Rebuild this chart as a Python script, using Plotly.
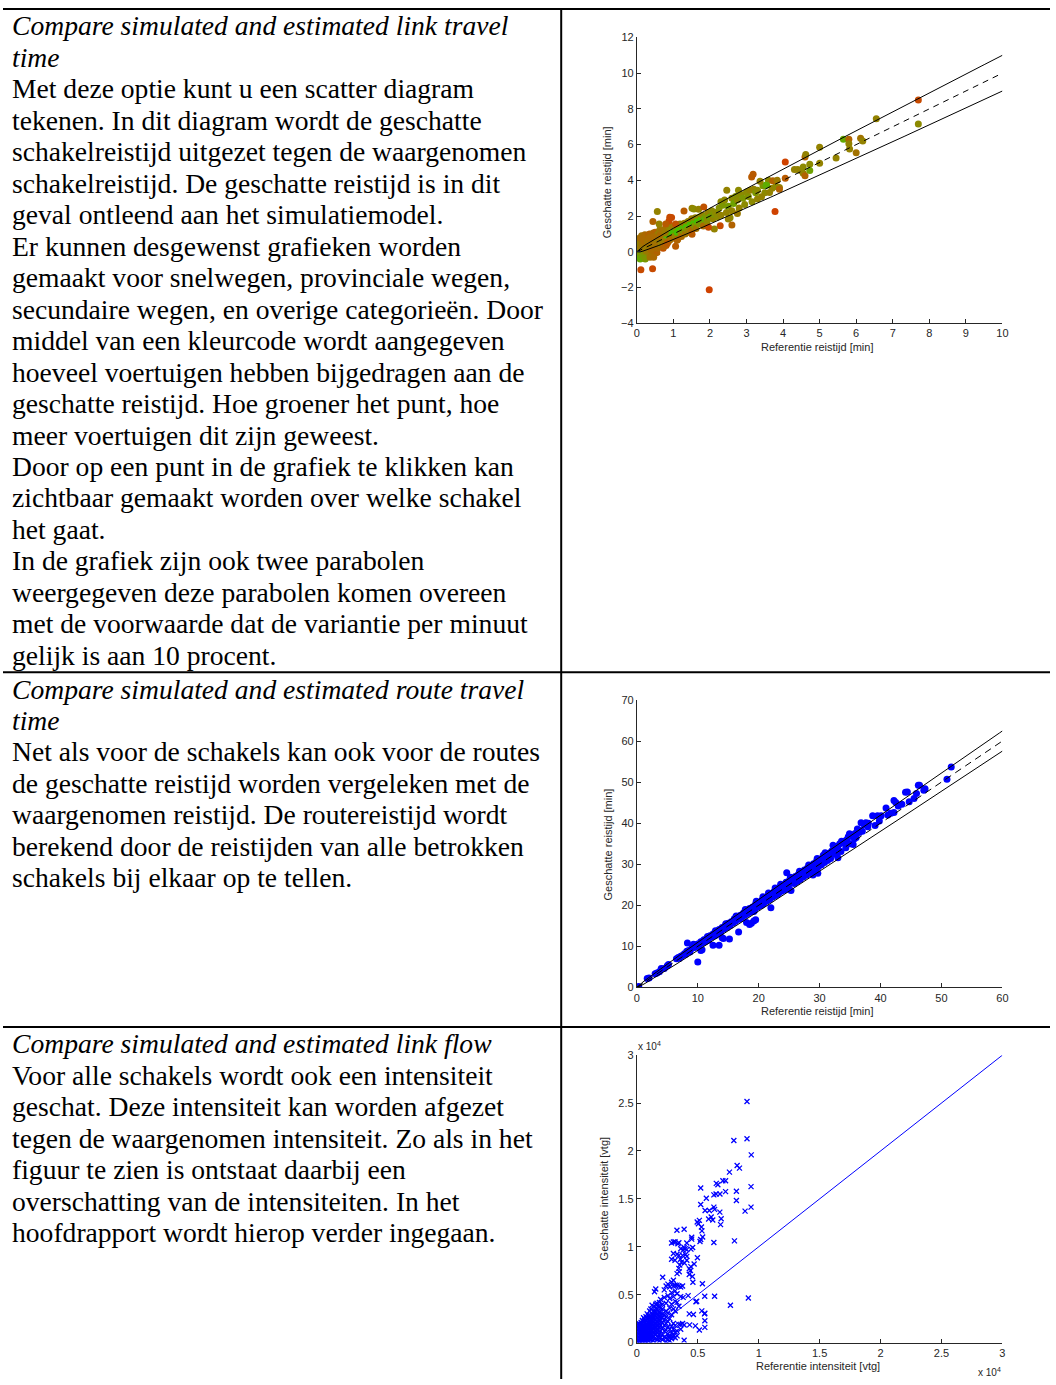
import plotly.graph_objects as go

W, H = 1056, 1385

# ---------------- text ----------------
S1_TITLE = ["Compare simulated and estimated link travel", "time"]
S1_BODY = [
    "Met deze optie kunt u een scatter diagram",
    "tekenen. In dit diagram wordt de geschatte",
    "schakelreistijd uitgezet tegen de waargenomen",
    "schakelreistijd. De geschatte reistijd is in dit",
    "geval ontleend aan het simulatiemodel.",
    "Er kunnen desgewenst grafieken worden",
    "gemaakt voor snelwegen, provinciale wegen,",
    "secundaire wegen, en overige categorieën. Door",
    "middel van een kleurcode wordt aangegeven",
    "hoeveel voertuigen hebben bijgedragen aan de",
    "geschatte reistijd. Hoe groener het punt, hoe",
    "meer voertuigen dit zijn geweest.",
    "Door op een punt in de grafiek te klikken kan",
    "zichtbaar gemaakt worden over welke schakel",
    "het gaat.",
    "In de grafiek zijn ook twee parabolen",
    "weergegeven deze parabolen komen overeen",
    "met de voorwaarde dat de variantie per minuut",
    "gelijk is aan 10 procent.",
]
S2_TITLE = ["Compare simulated and estimated route travel", "time"]
S2_BODY = [
    "Net als voor de schakels kan ook voor de routes",
    "de geschatte reistijd worden vergeleken met de",
    "waargenomen reistijd. De routereistijd wordt",
    "berekend door de reistijden van alle betrokken",
    "schakels bij elkaar op te tellen.",
]
S3_TITLE = ["Compare simulated and estimated link flow"]
S3_BODY = [
    "Voor alle schakels wordt ook een intensiteit",
    "geschat. Deze intensiteit kan worden afgezet",
    "tegen de waargenomen intensiteit. Zo als in het",
    "figuur te zien is ontstaat daarbij een",
    "overschatting van de intensiteiten. In het",
    "hoofdrapport wordt hierop verder ingegaan.",
]

# ---------------- data ----------------
# link travel time: (referentie, geschat, share of vehicles 0=few(red) .. 1=many(green))
LINK_POINTS = [
    (0.02, 0.25, 0.4), (0.05, 0.1, 0.45), (0.05, -0.1, 0.6), (0.08, 0.3, 0.35), (0.1, 0.5, 0.3),
    (0.1, -0.25, 0.75), (0.12, 0.15, 0.5), (0.13, 0.9, 0.35), (0.15, -0.35, 0.8), (0.15, 0.6, 0.3),
    (0.17, 0.05, 0.65), (0.18, 0.35, 0.45), (0.2, 0.8, 0.25), (0.2, -0.15, 0.7), (0.22, 0.95, 0.3),
    (0.22, 0.2, 0.55), (0.25, 0.5, 0.4), (0.25, -0.3, 0.5), (0.27, 0.7, 0.35), (0.28, 0.1, 0.5),
    (0.3, 0.9, 0.3), (0.3, 0.35, 0.55), (0.32, -0.1, 0.45), (0.33, 0.6, 0.4), (0.35, 1.0, 0.25),
    (0.35, 0.2, 0.5), (0.37, 0.75, 0.3), (0.38, -0.25, 0.4), (0.4, 0.45, 0.6), (0.4, 0.95, 0.3),
    (0.42, 0.05, 0.35), (0.43, 0.65, 0.45), (0.45, 1.05, 0.3), (0.45, 0.3, 0.4), (0.47, -0.15, 0.3),
    (0.48, 0.8, 0.4), (0.5, 0.55, 0.7), (0.5, 1.1, 0.25), (0.52, 0.15, 0.35), (0.53, 0.9, 0.35),
    (0.55, 0.4, 0.45), (0.55, -0.05, 0.25), (0.57, 0.7, 0.5), (0.58, 1.0, 0.4), (0.6, 0.25, 0.3),
    (0.6, 0.6, 0.8), (0.62, 0.85, 0.45), (0.63, 1.25, 0.4), (0.65, 0.35, 0.2), (0.65, 0.65, 0.6),
    (0.68, 1.05, 0.45), (0.7, 0.45, 0.3), (0.7, 0.75, 0.85), (0.72, 0.2, 0.15), (0.75, 0.95, 0.5),
    (0.75, 0.6, 0.35), (0.78, 1.3, 0.4), (0.8, 0.8, 0.9), (0.8, 0.35, 0.2), (0.82, 1.15, 0.35),
    (0.85, 0.9, 0.9), (0.85, 0.55, 0.3), (0.88, 1.4, 0.45), (0.9, 1.0, 0.9), (0.9, 0.65, 0.3),
    (0.93, 1.2, 0.5), (0.95, 0.75, 0.35), (0.98, 1.05, 0.95), (1.0, 1.45, 0.4), (1.0, 0.8, 0.3),
    (1.03, 1.15, 0.9), (1.05, 0.9, 0.45), (1.08, 1.3, 0.5), (1.1, 1.1, 0.95), (1.12, 0.7, 0.3),
    (1.15, 1.2, 0.95), (1.18, 1.55, 0.45), (1.2, 1.05, 0.5), (1.22, 0.85, 0.3), (1.25, 1.3, 0.9),
    (1.28, 1.15, 0.6), (1.3, 1.6, 0.4), (1.32, 1.0, 0.35), (1.35, 1.4, 0.95), (1.38, 1.25, 0.55),
    (1.4, 1.7, 0.45), (1.42, 1.1, 0.4), (1.45, 1.5, 0.95), (1.48, 1.35, 0.5), (1.5, 1.85, 0.4),
    (1.5, 1.2, 0.3), (1.55, 1.6, 0.9), (1.58, 1.45, 0.6), (1.6, 1.9, 0.45), (1.62, 1.3, 0.35),
    (1.65, 1.7, 0.95), (1.7, 1.55, 0.55), (1.72, 1.95, 0.5), (1.75, 1.8, 0.95), (1.78, 1.65, 0.6),
    (1.8, 2.05, 0.45), (1.82, 1.45, 0.3), (1.85, 1.85, 0.8), (1.9, 2.0, 0.6), (1.92, 1.7, 0.5),
    (1.95, 2.2, 0.45), (2.0, 1.95, 0.7), (2.05, 2.3, 0.5), (2.08, 1.85, 0.45), (2.1, 2.1, 0.6),
    (2.15, 2.2, 0.5), (2.2, 1.95, 0.5), (2.25, 2.45, 0.55), (2.3, 2.05, 0.45), (2.3, 2.8, 0.5),
    (2.35, 2.6, 0.6), (2.4, 2.9, 0.5), (2.45, 2.2, 0.45), (2.5, 2.55, 0.65), (2.55, 1.9, 0.5),
    (2.6, 3.0, 0.5), (2.6, 2.3, 0.45), (2.65, 2.7, 0.7), (2.7, 3.1, 0.55), (2.75, 2.9, 0.5),
    (2.75, 2.15, 0.4), (2.8, 2.45, 0.45), (2.85, 3.2, 0.5), (2.9, 3.0, 0.6), (2.95, 2.65, 0.5),
    (3.0, 3.35, 0.5), (3.05, 3.1, 0.55), (3.1, 3.45, 0.45), (3.15, 2.8, 0.5), (3.2, 3.5, 0.45),
    (3.25, 3.3, 0.6), (3.3, 2.95, 0.45), (3.3, 3.45, 0.5), (3.45, 3.7, 0.6), (3.5, 3.3, 0.5),
    (3.55, 3.75, 0.8), (3.6, 4.0, 0.5), (3.7, 3.55, 0.45), (3.8, 3.65, 0.5),
    # denser cluster near origin
    (0.03, 0.55, 0.4), (0.06, 0.75, 0.35), (0.09, -0.4, 0.75), (0.12, 0.4, 0.45), (0.14, -0.2, 0.65),
    (0.16, 0.7, 0.3), (0.19, 0.0, 0.55), (0.21, 0.45, 0.35), (0.23, -0.4, 0.6), (0.26, 0.25, 0.45),
    (0.29, 0.8, 0.3), (0.31, 0.15, 0.4), (0.34, 0.45, 0.35), (0.36, -0.3, 0.35), (0.39, 0.85, 0.25),
    (0.41, 0.3, 0.5), (0.44, 0.55, 0.35), (0.46, -0.3, 0.3), (0.49, 0.25, 0.4), (0.51, 0.75, 0.3),
    (0.54, 0.55, 0.45), (0.56, 0.2, 0.3), (0.59, 0.8, 0.35), (0.61, 0.45, 0.4), (0.64, 0.95, 0.3),
    (0.67, 0.5, 0.45), (0.69, 1.2, 0.35), (0.71, 0.6, 0.4), (0.74, 0.3, 0.25), (0.77, 1.05, 0.4),
    (0.02, 0.0, 0.6), (0.07, 0.6, 0.35), (0.11, 0.75, 0.3), (0.24, 0.85, 0.3), (0.32, 0.95, 0.25),
    (0.04, 0.4, 0.45), (0.09, 0.2, 0.4), (0.14, 0.45, 0.35), (0.19, 0.6, 0.3), (0.26, 0.05, 0.4),
    (0.29, 0.55, 0.35), (0.34, 0.8, 0.3), (0.39, 0.1, 0.3), (0.44, 0.85, 0.3), (0.49, 0.4, 0.35),
    # explicit features
    (0.11, -1.0, 0.1), (0.43, -0.95, 0.1), (1.98, -2.12, 0.05), (3.78, 2.25, 0.05),
    (0.56, 2.25, 0.45), (0.95, 1.92, 0.1), (0.9, 1.93, 0.1), (0.88, 1.73, 0.1), (0.44, 1.7, 0.25),
    (0.61, 1.55, 0.45), (0.79, 1.55, 0.2), (1.06, 1.55, 0.15), (1.29, 2.29, 0.2), (1.51, 2.44, 0.45),
    (1.56, 2.4, 0.5), (1.69, 2.38, 0.45), (1.83, 2.5, 0.15), (2.28, 1.46, 0.1), (2.12, 1.28, 0.45),
    (2.5, 1.83, 0.45), (2.6, 1.5, 0.25), (1.96, 1.38, 0.1), (2.46, 3.45, 0.45), (2.78, 3.45, 0.5),
    (3.14, 4.19, 0.2), (3.18, 4.34, 0.2), (3.37, 3.95, 0.45), (3.72, 3.97, 0.25), (3.84, 4.0, 0.4),
    (3.9, 3.6, 0.45), (3.54, 3.73, 0.8), (3.41, 3.08, 0.45), (3.63, 3.32, 0.45), (3.9, 3.5, 0.25),
    (1.06, 0.31, 0.2), (1.51, 0.98, 0.2), (0.83, 0.46, 0.2), (1.1, 0.65, 0.25),
    (4.06, 5.02, 0.05), (4.06, 4.12, 0.2), (4.31, 4.6, 0.45), (4.4, 4.6, 0.45), (4.48, 4.55, 0.45),
    (4.55, 4.4, 0.45), (4.6, 4.25, 0.25), (4.55, 4.75, 0.5), (4.6, 5.3, 0.25), (4.62, 5.45, 0.45),
    (4.73, 4.9, 0.5), (4.73, 4.55, 0.7), (5.0, 5.85, 0.45), (5.0, 4.95, 0.45), (5.45, 5.25, 0.45),
    (5.65, 6.3, 0.75), (5.8, 6.3, 0.25), (5.8, 6.05, 0.45), (5.82, 5.75, 0.45), (6.0, 5.55, 0.35),
    (6.12, 6.35, 0.35), (6.18, 6.2, 0.45), (6.55, 7.45, 0.45), (7.7, 8.5, 0.1), (7.7, 7.15, 0.5),
]

# route travel time (referentie, geschat) [min]
ROUTE_POINTS = [
    (0, 0), (0.3, 0.2), (1.7, 2.2), (2, 2.3), (3, 3.3), (3.3, 3.5), (3.7, 3.8), (4, 4.6), (4.5, 4.6),
    (5, 5.3), (5.2, 5.6), (6.5, 7.0), (6.8, 7.3), (7, 7.1), (7.2, 7.6), (7.5, 7.8), (7.8, 8.2), (8, 8.1),
    (8.2, 8.8), (8.3, 10.8), (8.5, 9.0), (8.7, 8.6), (9, 9.5), (9.2, 9.7), (9.3, 10.5), (9.5, 9.7),
    (9.8, 10.3), (10, 6.2), (10, 10.6), (10.2, 10.0), (10.5, 11.1), (10.5, 9.0), (10.7, 9.2), (10.8, 10.9),
    (11, 11.6), (11.2, 11.1), (11.5, 12.0), (11.7, 11.5), (12, 12.6), (12.2, 12.2), (12.5, 10.3),
    (12.5, 13.0), (12.8, 12.6), (13, 13.4), (13.2, 13.0), (13.5, 14.1), (13.5, 10.3), (13.8, 13.6),
    (14, 14.6), (14, 12.1), (14.2, 11.9), (14.3, 14.2), (14.5, 15.0), (14.8, 14.6), (15, 15.6),
    (15.2, 11.8), (15.3, 15.1), (15.5, 16.0), (15.8, 15.7), (16, 16.7), (16.2, 16.1), (16.5, 17.1),
    (16.7, 13.5), (16.8, 16.6), (17, 17.6), (17.2, 17.0), (17.5, 18.1), (17.7, 17.5), (18, 18.7),
    (18, 15.8), (18.2, 18.0), (18.5, 19.2), (18.5, 15.3), (18.7, 18.4), (18.8, 15.6), (19, 19.6),
    (19.2, 16.2), (19.2, 18.5), (19.3, 18.8), (19.5, 20.3), (19.5, 16.5), (19.8, 19.5), (20, 20.7),
    (20.2, 19.9), (20.5, 21.2), (20.8, 20.4), (21, 21.8), (21.3, 21.0), (21.5, 22.2), (21.8, 21.4),
    (22, 22.8), (22, 19.4), (22.3, 22.0), (22.5, 23.3), (22.8, 22.4), (23, 23.9), (23.2, 22.8),
    (23.5, 24.4), (23.8, 23.5), (24, 24.9), (24.3, 23.8), (24.5, 25.6), (24.6, 27.9), (24.8, 24.4),
    (25, 26.0), (25.3, 23.6), (25.5, 26.4), (25.8, 25.3), (26, 27.0), (26.3, 25.8), (26.5, 27.5),
    (26.8, 26.3), (27, 28.0), (27.3, 26.9), (27.5, 28.6), (27.8, 27.3), (28, 29.1), (28.3, 27.8),
    (28.5, 29.6), (28.8, 28.4), (28.9, 27.4), (29, 30.1), (29.3, 28.8), (29.5, 30.7), (29.7, 27.8),
    (29.8, 29.4), (30, 31.2), (30.3, 29.9), (30.6, 32.2), (30.8, 30.4), (31, 32.0), (31.3, 30.9),
    (31.5, 32.7), (31.8, 31.4), (32, 33.2), (32.2, 34.6), (32.5, 33.7), (32.8, 32.3), (33, 31.6),
    (33, 34.4), (33.3, 35.0), (33.5, 33.1), (33.8, 35.2), (34, 35.6), (34.3, 34.0), (34.5, 36.0),
    (34.9, 37.4), (35, 35.0), (35.3, 37.0), (35.5, 34.8), (35.8, 37.5), (36, 36.5), (36.2, 38.6),
    (36.5, 37.7), (36.8, 40.1), (37, 38.0), (37.3, 39.7), (37.6, 40.1), (38, 40.0), (38.7, 41.8),
    (39.1, 39.4), (39.5, 41.8), (40.1, 41.8), (40.9, 43.7), (41.7, 42.4), (42.2, 42.6), (42.2, 45.5),
    (42.5, 45.0), (42.9, 44.2), (44.1, 47.5), (44.4, 47.6), (44.7, 45.2), (45.5, 46.0), (46.2, 49.2),
    (46.4, 49.2), (47.1, 48.0), (47.3, 48.4), (50.9, 50.7), (51.6, 53.7),
    (11.6, 12.4), (12.9, 13.8), (14.6, 15.5), (16.3, 17.4), (17.8, 19.0), (19.6, 21.0), (20.7, 22.1),
    (21.6, 23.0), (22.7, 24.2), (23.6, 25.1), (25.2, 26.8), (26.7, 28.3), (28.2, 29.8), (29.6, 31.4),
    (30.9, 32.8), (33.6, 35.6), (34.7, 36.7), (20.4, 20.0), (21.9, 21.7), (23.4, 23.2), (24.9, 24.9),
    (26.4, 26.2), (27.9, 27.8), (29.4, 29.2), (30.4, 30.8), (32.3, 32.6), (34.6, 35.0),
    (35.7, 36.2), (36.6, 38.3), (37.9, 39.1), (39.8, 40.5), (41.2, 42.0), (43.5, 44.6), (45.9, 47.2),
]

# link flow (referentie, geschat) [vtg]
FLOW_POINTS = [
    (50, 100), (50, 400), (50, 700), (50, 1000), (50, 1300), (50, 1600), (50, 1900),
    (150, 0), (150, 300), (150, 600), (150, 900), (150, 1200), (150, 1500), (150, 1800), (150, 2000),
    (250, 150), (250, 450), (250, 750), (250, 1050), (250, 1350), (250, 1650), (250, 1950),
    (350, 0), (350, 300), (350, 600), (350, 900), (350, 1200), (350, 1500), (350, 1800), (350, 2100),
    (450, 200), (450, 500), (450, 800), (450, 1100), (450, 1400), (450, 1700), (450, 2000), (450, 2300),
    (550, 50), (550, 350), (550, 650), (550, 950), (550, 1250), (550, 1550), (550, 1850), (550, 2200), (550, 2600),
    (650, 250), (650, 550), (650, 850), (650, 1150), (650, 1450), (650, 1750), (650, 2050), (650, 2400),
    (750, 100), (750, 400), (750, 700), (750, 1000), (750, 1300), (750, 1600), (750, 1900), (750, 2300), (750, 2700),
    (850, 300), (850, 600), (850, 900), (850, 1200), (850, 1500), (850, 1800), (850, 2100), (850, 2500), (850, 3000),
    (950, 150), (950, 500), (950, 850), (950, 1150), (950, 1450), (950, 1750), (950, 2100), (950, 2450), (950, 2800),
    (1050, 400), (1050, 700), (1050, 1000), (1050, 1300), (1050, 1600), (1050, 1900), (1050, 2200), (1050, 2600), (1050, 3300),
    (1150, 0), (1150, 300), (1150, 650), (1150, 950), (1150, 1300), (1150, 1650), (1150, 2000), (1150, 2350), (1150, 2800), (1150, 3500),
    (1250, 500), (1250, 850), (1250, 1200), (1250, 1550), (1250, 1900), (1250, 2250), (1250, 2600), (1250, 3000), (1250, 3900),
    (1350, 200), (1350, 700), (1350, 1100), (1350, 1450), (1350, 1800), (1350, 2150), (1350, 2500), (1350, 2900), (1350, 3300),
    (1450, 400), (1450, 900), (1450, 1300), (1450, 1700), (1450, 2050), (1450, 2450), (1450, 2850), (1450, 3200), (1450, 3700), (1450, 5300),
    (1550, 800), (1550, 1200), (1550, 1600), (1550, 2000), (1550, 2400), (1550, 2800), (1550, 3200), (1550, 3600), (1550, 4000), (1550, 5600),
    (1650, 300), (1650, 1000), (1650, 1400), (1650, 1800), (1650, 2200), (1650, 2600), (1650, 3000), (1650, 3500), (1650, 4100),
    (1750, 600), (1750, 1300), (1750, 1700), (1750, 2100), (1750, 2500), (1750, 2900), (1750, 3300), (1750, 3800),
    (1850, 200), (1850, 900), (1850, 1600), (1850, 2000), (1850, 2400), (1850, 2800), (1850, 3200), (1850, 3700), (1850, 4200),
    (1950, 500), (1950, 1200), (1950, 1800), (1950, 2300), (1950, 2700), (1950, 3100), (1950, 3600), (1950, 4500),
    (2100, 300), (2100, 800), (2100, 1500), (2100, 2100), (2100, 2600), (2100, 3000), (2100, 3500), (2100, 4000), (2120, 6830),
    (2250, 600), (2250, 1200), (2250, 1800), (2250, 2400), (2250, 2900), (2250, 4700), (2250, 5500),
    (2400, 100), (2400, 500), (2400, 1300), (2400, 2000), (2400, 2700), (2400, 3300), (2400, 4100), (2400, 5900),
    (2550, 300), (2550, 900), (2550, 1600), (2550, 2200), (2550, 3100), (2550, 4900), (2550, 6100),
    (2620, 580), (2700, 200), (2700, 700), (2700, 1400), (2700, 2500), (2700, 3600), (2700, 4600), (2700, 5800),
    (2850, 400), (2850, 1000), (2850, 1700), (2850, 2900), (2850, 4000), (2850, 5200), (2850, 6300), (2850, 8700), (2850, 10400),
    (2950, 580), (3000, 800), (3000, 1400), (3000, 2000), (3000, 3500), (3000, 4800), (3000, 5900), (3000, 6500), (3000, 9300), (3000, 10500),
    (3150, 500), (3150, 1100), (3150, 1800), (3150, 3300), (3150, 4300), (3150, 5400), (3150, 6000), (3130, 8600), (3130, 10520),
    (3300, 700), (3300, 1200), (3300, 4200), (3300, 5100), (3300, 6000), (3300, 7200), (3300, 9230), (3290, 11720),
    (3450, 1900), (3450, 3800), (3450, 5900), (3440, 7750), (3450, 9100), (3450, 10420), (3370, 10310),
    (3600, 1400), (3600, 4800), (3600, 5800), (3580, 8700), (3660, 8400), (3520, 8100), (3480, 7400), (3600, 9800),
    (3750, 2000), (3750, 5900), (3750, 9100), (3800, 9650), (3880, 9930), (3970, 9790), (3880, 11830),
    (3880, 240), (3880, 1830), (3600, 1900), (3800, 4720), (3900, 8300), (4000, 9200),
    (4100, 9700), (4100, 9000), (4100, 10400), (4100, 8600), (4210, 4900), (4330, 1850),
    (4300, 3000), (4300, 7100), (4300, 7700), (4400, 7520), (4430, 7930), (4440, 9760), (4580, 9930),
    (4500, 10800), (4500, 11000), (4560, 6900), (4600, 6300), (4640, 2930), (4700, 8200), (4800, 1750),
    (4850, 4270), (4910, 4310), (4970, 8860), (4950, 12590), (5050, 12410), (5130, 12760), (5130, 1310),
    (5180, 10550), (5240, 10760), (5240, 14410), (5240, 16140), (5300, 12070), (5330, 3310), (5340, 11660),
    (5380, 6140), (5400, 11030), (5550, 3000), (5570, 4830), (5580, 2280), (5580, 1590), (5580, 3070),
    (5600, 13790), (5700, 15070), (5890, 12900), (5950, 13790), (6100, 13100), (6230, 12790), (6320, 14140),
    (6320, 15420), (6320, 10450), (6380, 13900), (6380, 4830), (6500, 15500), (6520, 16620), (6650, 16480),
    (6820, 15500), (6810, 13620), (6870, 12310), (6920, 12930), (7060, 16900), (7280, 16900), (7280, 15760),
    (7600, 17790), (7680, 3900), (7960, 21100), (8010, 10620), (8170, 15790), (8170, 14830), (8230, 18480),
    (8420, 18210), (8880, 13720), (9040, 25170), (9040, 21280), (9150, 4660), (9370, 16280), (9370, 14140),
    (9390, 19590),
]

X_TICKS_LINK = [0, 1, 2, 3, 4, 5, 6, 7, 8, 9, 10]
Y_TICKS_LINK = [-4, -2, 0, 2, 4, 6, 8, 10, 12]
X_TICKS_ROUTE = [0, 10, 20, 30, 40, 50, 60]
Y_TICKS_ROUTE = [0, 10, 20, 30, 40, 50, 60, 70]
FLOW_TICKS = [0, 5000, 10000, 15000, 20000, 25000, 30000]
FLOW_TICK_LABELS = ["0", "0.5", "1", "1.5", "2", "2.5", "3"]

VARIANCE_PER_MINUTE = 0.1  # parabolas: y = x +/- sqrt(0.1 x)

# ---------------- layout helpers ----------------
def px_x(px):
    return px / W

def px_y(py):
    return 1 - py / H

AX_COLOR = "#262626"
TICKFONT = dict(family="Liberation Sans, Arial", size=11, color=AX_COLOR)

fig = go.Figure()

def parabola_curves(xmax, n=120):
    xs = [xmax * i / n for i in range(n + 1)]
    up = [x + (VARIANCE_PER_MINUTE * x) ** 0.5 for x in xs]
    lo = [x - (VARIANCE_PER_MINUTE * x) ** 0.5 for x in xs]
    return xs, up, lo

# chart 1
fig.add_trace(go.Scatter(
    x=[p[0] for p in LINK_POINTS], y=[p[1] for p in LINK_POINTS], mode="markers",
    marker=dict(size=7, color=[p[2] for p in LINK_POINTS], cmin=0, cmax=1,
                colorscale=[[0, "#d63a00"], [0.5, "#8c8a00"], [1, "#3ec400"]],
                line=dict(width=0)),
    xaxis="x", yaxis="y", hoverinfo="skip"))
xs, up, lo = parabola_curves(10)
fig.add_trace(go.Scatter(x=xs, y=up, mode="lines", line=dict(color="black", width=1), xaxis="x", yaxis="y"))
fig.add_trace(go.Scatter(x=xs, y=lo, mode="lines", line=dict(color="black", width=1), xaxis="x", yaxis="y"))
fig.add_trace(go.Scatter(x=[0, 10], y=[0, 10], mode="lines",
                         line=dict(color="black", width=1, dash="6px,5px"), xaxis="x", yaxis="y"))

# chart 2
fig.add_trace(go.Scatter(
    x=[p[0] for p in ROUTE_POINTS], y=[p[1] for p in ROUTE_POINTS], mode="markers",
    marker=dict(size=7, color="#0000ff", line=dict(width=0)), xaxis="x2", yaxis="y2"))
xs, up, lo = parabola_curves(60)
fig.add_trace(go.Scatter(x=xs, y=up, mode="lines", line=dict(color="black", width=1), xaxis="x2", yaxis="y2"))
fig.add_trace(go.Scatter(x=xs, y=lo, mode="lines", line=dict(color="black", width=1), xaxis="x2", yaxis="y2"))
fig.add_trace(go.Scatter(x=[0, 60], y=[0, 60], mode="lines",
                         line=dict(color="black", width=1, dash="7px,5px"), xaxis="x2", yaxis="y2"))

# chart 3
fig.add_trace(go.Scatter(
    x=[p[0] for p in FLOW_POINTS], y=[p[1] for p in FLOW_POINTS], mode="markers",
    marker=dict(symbol="x-thin", size=5, line=dict(width=1.3, color="#0000ff"), color="#0000ff"),
    xaxis="x3", yaxis="y3"))
fig.add_trace(go.Scatter(x=[0, 30000], y=[0, 30000], mode="lines",
                         line=dict(color="#0000ff", width=1), xaxis="x3", yaxis="y3"))

def axis(domain, rng, tickvals, ticktext=None, anchor=None):
    d = dict(domain=domain, range=rng, tickvals=tickvals, showline=True, linecolor=AX_COLOR,
             linewidth=1, ticks="inside", ticklen=4, tickcolor=AX_COLOR, tickwidth=1,
             showgrid=False, zeroline=False, tickfont=TICKFONT, anchor=anchor, fixedrange=True)
    if ticktext is not None:
        d["ticktext"] = ticktext
    return d

XD = [px_x(639.3), px_x(1008)]
fig.update_layout(
    width=W, height=H, margin=dict(l=0, r=0, t=0, b=0), autosize=False,
    paper_bgcolor="white", plot_bgcolor="rgba(0,0,0,0)", showlegend=False,
    xaxis=axis(XD, [0, 10], X_TICKS_LINK, anchor="y"),
    yaxis=axis([px_y(320), px_y(31.7)], [-4, 12], Y_TICKS_LINK, anchor="x"),
    xaxis2=axis(XD, [0, 60], X_TICKS_ROUTE, anchor="y2"),
    yaxis2=axis([px_y(990), px_y(700)], [0, 70], Y_TICKS_ROUTE, anchor="x2"),
    xaxis3=axis(XD, [0, 30000], FLOW_TICKS, FLOW_TICK_LABELS, anchor="y3"),
    yaxis3=axis([px_y(1348.3), px_y(1058.3)], [0, 30000], FLOW_TICKS, FLOW_TICK_LABELS, anchor="x3"),
)

# ---------------- text annotations ----------------
SERIF = "Liberation Serif, Times New Roman, serif"
FS = 27.6
LINE = 31.75
TEXT_X = 8
ann = []

def add_block(title, body, y0):
    y = y0
    for t in title:
        ann.append(dict(x=px_x(TEXT_X), y=px_y(y), xref="paper", yref="paper", text="<i>%s</i>" % t,
                        showarrow=False, xanchor="left", yanchor="middle", borderpad=0,
                        font=dict(family=SERIF, size=FS, color="black")))
        y += LINE
    for t in body:
        ann.append(dict(x=px_x(TEXT_X), y=px_y(y), xref="paper", yref="paper", text=t,
                        showarrow=False, xanchor="left", yanchor="middle", borderpad=0,
                        font=dict(family=SERIF, size=FS, color="black")))
        y += LINE

add_block(S1_TITLE, S1_BODY, 20)
add_block(S2_TITLE, S2_BODY, 689)
add_block(S3_TITLE, S3_BODY, 1047)

LAB = dict(family="Liberation Sans, Arial", size=11, color=AX_COLOR)

def label(x, y, text, angle=0, xanchor="center", yanchor="middle", size=11):
    ann.append(dict(x=px_x(x), y=px_y(y), xref="paper", yref="paper", text=text, showarrow=False,
                    textangle=angle, xanchor=xanchor, yanchor=yanchor, font=dict(LAB, size=size)))

label(822, 344, "Referentie reistijd [min]")
label(610, 178, "Geschatte reistijd [min]", -90)
label(822, 1014, "Referentie reistijd [min]")
label(610, 846, "Geschatte reistijd [min]", -90)
label(822, 1372, "Referentie intensiteit [vtg]")
label(606, 1203, "Geschatte intensiteit [vtg]", -90)
label(638, 1049, "x 10<sup>4</sup>", xanchor="left", size=10)
label(1009, 1378, "x 10<sup>4</sup>", xanchor="right", size=10)

fig.update_layout(annotations=ann)

# ---------------- table borders ----------------
BORDER = dict(color="black", width=2)
shapes = []
for yy in (3, 672, 1030):
    shapes.append(dict(type="line", xref="paper", yref="paper", x0=0, x1=1,
                       y0=px_y(yy), y1=px_y(yy), line=BORDER))
shapes.append(dict(type="line", xref="paper", yref="paper", x0=px_x(563), x1=px_x(563),
                   y0=px_y(3), y1=0, line=BORDER))
fig.update_layout(shapes=shapes)

POST = (
    "var de=document.documentElement, b=document.body;"
    "de.style.margin='0';de.style.padding='0';de.style.overflow='hidden';"
    "b.style.margin='0';b.style.padding='0';b.style.overflow='hidden';"
    "var d=document.getElementById('{plot_id}');"
    "d.style.position='absolute';d.style.left='0px';d.style.top='0px';"
)

fig.write_html("out.html", config={"displayModeBar": False}, post_script=POST)
